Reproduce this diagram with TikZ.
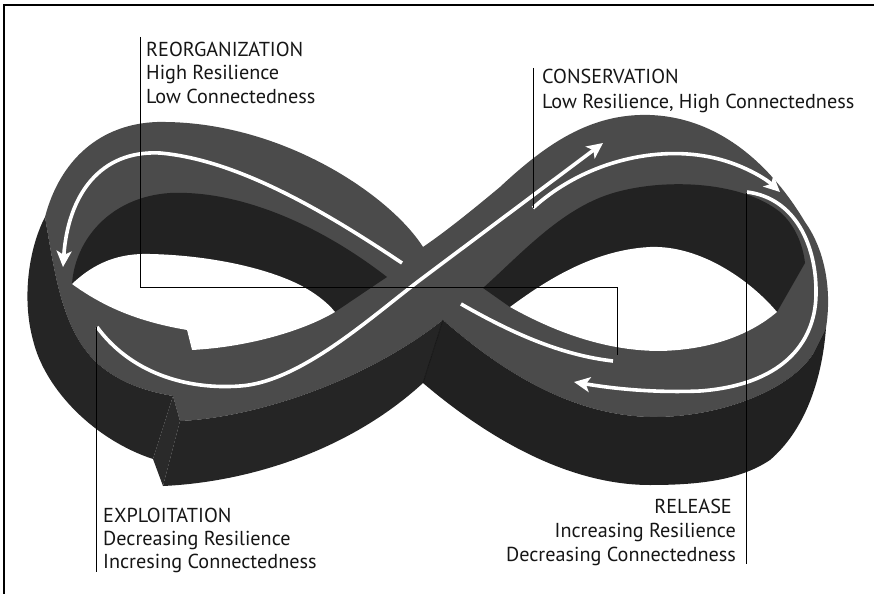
\documentclass[tikz,border=0pt]{standalone}
\usepackage{fontspec}
\setmainfont{PT Sans}
\usetikzlibrary{arrows.meta}
\definecolor{topg}{RGB}{75,75,75}
\definecolor{wallc}{RGB}{37,37,37}
\definecolor{wallr}{RGB}{33,33,33}
\definecolor{innerc}{RGB}{34,34,34}
\definecolor{stepc}{RGB}{42,42,42}
\definecolor{creasec}{RGB}{24,24,24}
\definecolor{txt}{RGB}{22,22,22}
\begin{document}
\begin{tikzpicture}[x=1pt,y=-1pt,
  lbl/.style={inner sep=0pt, anchor=base west, font=\fontsize{20.2}{23}\selectfont, text=txt},
  lblr/.style={lbl, anchor=base east},
  wl/.style={draw=white, line width=3.6pt},
  wa/.style={wl, -{Stealth[length=16pt,width=15pt,inset=4pt]}},
  lead/.style={draw=black, line width=1pt}]
\useasboundingbox (0,0) rectangle (876,594);
\fill[white] (0,0) rectangle (876,594);
% frame
\draw[line width=1.3pt] (4,594) -- (4,5) -- (874,5);

% ---- top surface (gray)
\fill[topg] (423,247) .. controls (390,195) and (280,120) .. (157,122)
 .. controls (100,124) and (60,160) .. (45,217)
 .. controls (55,275) and (62,330) .. (97,363)
 .. controls (120,384) and (150,392) .. (173,396)
 -- (180,421)
 .. controls (250,418) and (360,385) .. (443,320)
 .. controls (500,370) and (570,415) .. (650,417)
 .. controls (720,418) and (790,390) .. (813,354)
 -- (826,328)
 .. controls (832,290) and (825,250) .. (805,222)
 .. controls (780,180) and (730,118) .. (650,115)
 .. controls (590,113) and (545,145) .. (500,187)
 .. controls (470,212) and (445,232) .. (423,247) -- cycle;

% ---- outer walls
\fill[wallc] (45,217) .. controls (28,250) and (22,300) .. (33,340)
 .. controls (45,390) and (95,440) .. (153,459) -- (173,396)
 .. controls (150,392) and (120,384) .. (97,363)
 .. controls (62,330) and (55,275) .. (45,217) -- cycle;
\fill[stepc] (173,396) -- (180,421) -- (163,486) -- (153,459) -- cycle;
\fill[wallc] (180,421) .. controls (250,418) and (360,385) .. (443,320)
 -- (423,383) .. controls (350,450) and (250,482) .. (163,486) -- cycle;
\fill[wallr] (443,320) .. controls (500,370) and (570,415) .. (650,417)
 .. controls (720,418) and (790,390) .. (813,354) -- (826,328)
 .. controls (822,380) and (805,430) .. (770,460)
 .. controls (740,480) and (700,485) .. (650,485)
 .. controls (570,485) and (490,440) .. (423,383) -- cycle;
\draw[creasec, line width=0.8pt] (443,320) -- (423,383);

% ---- inner walls
\fill[innerc] (72,284) .. controls (75,240) and (110,197) .. (170,193)
 .. controls (240,190) and (320,225) .. (387,277) -- (335,312)
 .. controls (305,330) and (250,347) .. (192,350) -- (187,330)
 .. controls (140,322) and (105,308) .. (72,284) -- cycle;
\fill[innerc] (483,288) .. controls (520,255) and (560,210) .. (610,194)
 .. controls (660,178) and (740,180) .. (780,212)
 .. controls (795,225) and (803,245) .. (805,263) -- (777,312)
 .. controls (750,335) and (710,350) .. (660,351)
 .. controls (610,351) and (560,335) .. (510,307) -- cycle;

% ---- holes
\fill[white] (72,284) .. controls (95,262) and (120,253) .. (150,254)
 .. controls (200,255) and (260,265) .. (300,285)
 .. controls (315,293) and (327,302) .. (335,312)
 .. controls (305,330) and (250,347) .. (192,350) -- (187,330)
 .. controls (140,322) and (105,308) .. (72,284) -- cycle;
\fill[white] (510,307) .. controls (540,285) and (590,250) .. (650,247)
 .. controls (700,245) and (750,280) .. (777,312)
 .. controls (750,335) and (710,350) .. (660,351)
 .. controls (610,351) and (560,335) .. (510,307) -- cycle;

% ---- white cycle lines
\draw[wa] (97,327) .. controls (130,372) and (185,390) .. (240,386)
 .. controls (300,382) and (370,318) .. (420,280) -- (603,143);
\draw[wa] (533,208) .. controls (580,165) and (650,145) .. (710,157)
 .. controls (740,163) and (765,178) .. (780,192);
\draw[wa] (747,192) .. controls (795,198) and (817,245) .. (816,295)
 .. controls (815,345) and (780,385) .. (700,391)
 .. controls (650,393) and (610,388) .. (574,382);
\draw[wl] (461,304) .. controls (510,332) and (560,355) .. (613,361);
\draw[wa] (402,263) .. controls (330,215) and (240,160) .. (160,153)
 .. controls (100,150) and (68,195) .. (63,267);

% ---- leaders
\coordinate (r0) at (140,37);
\coordinate (r1) at (140,287);
\coordinate (r2) at (617,287);
\coordinate (r3) at (617,355);
\coordinate (c0) at (533,68);
\coordinate (c1) at (533,208);
\coordinate (e0) at (96,327);
\coordinate (e1) at (96,572);
\coordinate (l0) at (746,193);
\coordinate (l1) at (746,564);
\draw[lead] (r0) -- (r1) -- (r2) -- (r3);
\draw[lead] (c0) -- (c1);
\draw[lead] (e0) -- (e1);
\draw[lead] (l0) -- (l1);

% ---- texts
\node[lbl] (reo1) at (146,57) {REORGANIZATION};
\node[lbl] (reo2) at (146,80) {High Resilience};
\node[lbl] (reo3) at (146,103) {Low Connectedness};
\node[lbl] (con1) at (542,84) {CONSERVATION};
\node[lbl] (con2) at (542,108) {Low Resilience, High Connectedness};
\node[lbl] (exp1) at (103,522) {EXPLOITATION};
\node[lbl] (exp2) at (103,545) {Decreasing Resilience};
\node[lbl] (exp3) at (103,568) {Incresing Connectedness};
\node[lblr] (rel1) at (732,513) {RELEASE};
\node[lblr] (rel2) at (736,537) {Increasing Resilience};
\node[lblr] (rel3) at (736,561) {Decreasing Connectedness};
\end{tikzpicture}
\end{document}
